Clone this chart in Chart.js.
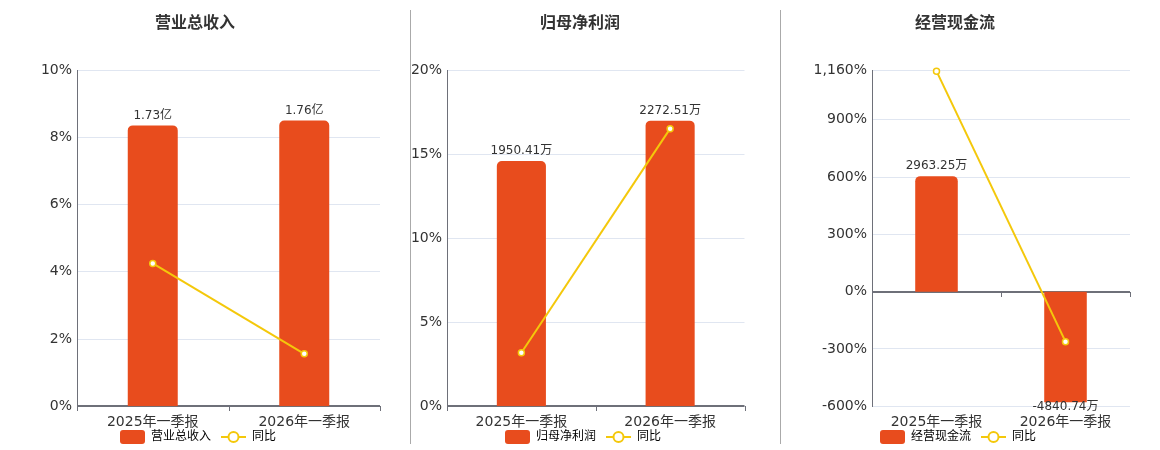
<!DOCTYPE html>
<html>
<head>
<meta charset="utf-8">
<script src="https://cdn.jsdelivr.net/npm/chart.js@4.4.1/dist/chart.umd.min.js"></script>
<style>
  body { margin: 0; background: #fff; width: 1160px; height: 450px; position: relative; overflow: hidden; }
  .box { position: absolute; top: 0; height: 450px; }
  .sep { position: absolute; top: 10px; height: 434px; width: 1px; background: #aaa; }
</style>
</head>
<body>
<div class="box" style="left:10px;width:400px"><canvas id="c1" width="400" height="450"></canvas></div>
<div class="sep" style="left:410px"></div>
<div class="box" style="left:410px;width:340px"><canvas id="c2" width="340" height="450"></canvas></div>
<div class="sep" style="left:780px"></div>
<div class="box" style="left:780px;width:360px"><canvas id="c3" width="360" height="450"></canvas></div>
<script>
// categories
var periods = ['2025年一季报', '2026年一季报'];

// 营业总收入 (亿) and 同比 (%)
var revenueValues = [1.73, 1.76];
var revenueYoY = [4.25, 1.56];
var revenueTicks = [0, 2, 4, 6, 8, 10];

// 归母净利润 (万) and 同比 (%)
var profitValues = [1950.41, 2272.51];
var profitYoY = [3.18, 16.52];
var profitTicks = [0, 5, 10, 15, 20];

// 经营现金流 (万) and 同比 (%)
var cashValues = [2963.25, -4840.74];
var cashYoY = [1155, -262];
var cashTicks = [-600, -300, 0, 300, 600, 900, 1160];

var BAR_COLOR = '#E84C1D';
var LINE_COLOR = '#F4C80B';
var FONT = "'DejaVu Sans', 'Noto Sans CJK SC', sans-serif";

// legend icons, 6px blank on the left to space the two items
function barIcon() {
  var c = document.createElement('canvas');
  c.width = 31; c.height = 14;
  var g = c.getContext('2d');
  g.fillStyle = BAR_COLOR;
  g.beginPath();
  g.roundRect(6, 0, 25, 14, 3);
  g.fill();
  return c;
}

function lineIcon() {
  var c = document.createElement('canvas');
  c.width = 31; c.height = 14;
  var g = c.getContext('2d');
  g.strokeStyle = LINE_COLOR;
  g.lineWidth = 2;
  g.beginPath();
  g.moveTo(6, 7); g.lineTo(31, 7);
  g.stroke();
  g.beginPath();
  g.arc(18.5, 7, 5, 0, Math.PI * 2);
  g.fillStyle = '#fff';
  g.fill();
  g.stroke();
  return c;
}

// zero axis line with category boundary ticks
var zeroAxis = {
  id: 'zeroAxis',
  beforeDatasetsDraw: function(chart) {
    var ctx = chart.ctx, a = chart.chartArea;
    var y = Math.round(chart.scales.y.getPixelForValue(0));
    ctx.save();
    ctx.strokeStyle = '#6E7079';
    ctx.lineWidth = 2;
    ctx.beginPath();
    ctx.moveTo(a.left, y); ctx.lineTo(a.right, y);
    ctx.stroke();
    ctx.lineWidth = 1;
    var n = chart.data.labels.length;
    for (var i = 0; i <= n; i++) {
      var x = Math.round(a.left + (a.right - a.left) * i / n) + 0.5;
      ctx.beginPath();
      ctx.moveTo(x, y); ctx.lineTo(x, y + 5);
      ctx.stroke();
    }
    ctx.restore();
  }
};

// value labels on bars
var barLabels = {
  id: 'barLabels',
  afterDatasetsDraw: function(chart) {
    var ctx = chart.ctx, a = chart.chartArea;
    var ds = chart.data.datasets[0];
    var meta = chart.getDatasetMeta(0);
    ctx.save();
    ctx.font = '12px ' + FONT;
    ctx.fillStyle = '#333';
    ctx.textAlign = 'center';
    meta.data.forEach(function(el, i) {
      var v = ds.data[i];
      var text = v.toFixed(2) + ds.unit;
      if (v >= 0) {
        ctx.textBaseline = 'bottom';
        ctx.fillText(text, el.x, Math.max(el.y, a.top) - 4);
      } else {
        ctx.textBaseline = 'top';
        ctx.fillText(text, el.x, Math.min(el.y, a.bottom) - 5);
      }
    });
    ctx.restore();
  }
};

// pull the legend up close under the category labels
var legendUp = {
  id: 'legendUp',
  afterLayout: function(chart) {
    chart.legend.top -= 12;
    chart.legend.bottom -= 12;
  }
};

function buildChart(id, title, barValues, unit, yoy, ticks, barMin, barMax, axisWidth, padRight, barClip) {
  var ctx = document.getElementById(id);
  return new Chart(ctx, {
    type: 'bar',
    data: {
      labels: periods,
      datasets: [{
        type: 'bar',
        label: title,
        unit: unit,
        data: barValues,
        yAxisID: 'yBar',
        backgroundColor: BAR_COLOR,
        borderRadius: 5,
        borderSkipped: 'start',
        barPercentage: 0.33,
        categoryPercentage: 1,
        clip: barClip,
        order: 2
      }, {
        type: 'line',
        label: '同比',
        data: yoy,
        yAxisID: 'y',
        borderColor: LINE_COLOR,
        borderWidth: 2,
        pointRadius: 3,
        pointBorderWidth: 1.5,
        pointBackgroundColor: '#fff',
        pointBorderColor: LINE_COLOR,
        clip: 6,
        order: 1
      }]
    },
    options: {
      responsive: false,
      animation: false,
      layout: { padding: { left: 0, right: padRight, top: 0, bottom: -15 } },
      plugins: {
        title: {
          display: true,
          text: title,
          color: '#333',
          font: { family: FONT, size: 16, weight: 'bold' },
          padding: { top: 14, bottom: 37 }
        },
        legend: {
          position: 'bottom',
          labels: {
            usePointStyle: true,
            pointStyleWidth: 31,
            color: '#555',
            font: { family: FONT, size: 12 },
            padding: 4,
            generateLabels: function() {
              return [
                { text: title, pointStyle: barIcon(), fillStyle: BAR_COLOR, strokeStyle: BAR_COLOR, lineWidth: 0, datasetIndex: 0 },
                { text: '同比', pointStyle: lineIcon(), fillStyle: LINE_COLOR, strokeStyle: LINE_COLOR, lineWidth: 0, datasetIndex: 1 }
              ];
            }
          }
        },
        tooltip: { enabled: false }
      },
      scales: {
        x: {
          grid: { display: false, drawTicks: false },
          border: { display: false },
          ticks: { color: '#333', font: { family: FONT, size: 14 }, padding: 8 }
        },
        y: {
          position: 'left',
          min: ticks[0],
          max: ticks[ticks.length - 1],
          afterBuildTicks: function(s) {
            s.ticks = ticks.map(function(v) { return { value: v }; });
          },
          afterFit: function(s) { s.width = axisWidth; },
          grid: { color: '#E0E6F1', drawTicks: false },
          border: { display: true, color: '#6E7079', width: 1 },
          ticks: {
            color: '#333',
            font: { family: FONT, size: 14 },
            padding: 5,
            callback: function(v) { return v.toLocaleString('en-US') + '%'; }
          }
        },
        yBar: {
          display: false,
          min: barMin,
          max: barMax
        }
      }
    },
    plugins: [zeroAxis, barLabels, legendUp]
  });
}

buildChart('c1', '营业总收入', revenueValues, '亿', revenueYoY, revenueTicks, 0, 2.07, 67, 30);
buildChart('c2', '归母净利润', profitValues, '万', profitYoY, profitTicks, 0, 2674, 37, 0);
buildChart('c3', '经营现金流', cashValues, '万', cashYoY, cashTicks, -2937, 5681, 92, 10, { left: 0, top: 0, right: 0, bottom: -4 });
</script>
</body>
</html>
